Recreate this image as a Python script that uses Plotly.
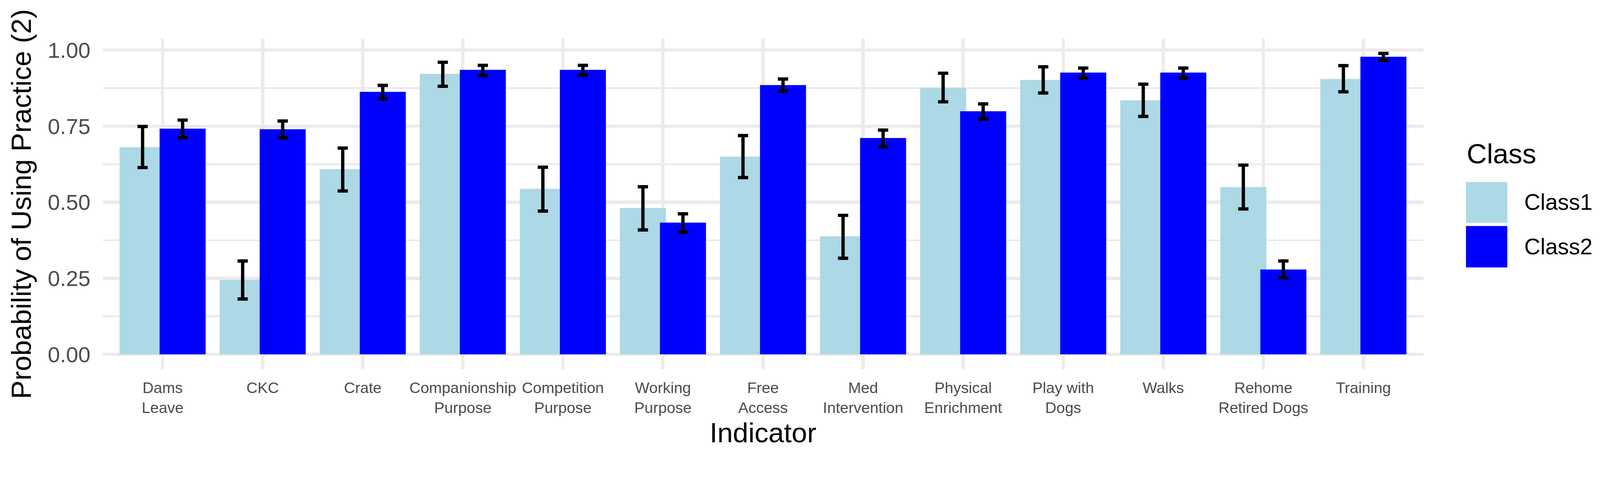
import plotly.graph_objects as go

# Indicadores (eixo x) e rótulos com quebra de linha
indicadores = ['Dams Leave', 'CKC', 'Crate', 'Companionship Purpose', 'Competition Purpose',
               'Working Purpose', 'Free Access', 'Med Intervention', 'Physical Enrichment',
               'Play with Dogs', 'Walks', 'Rehome Retired Dogs', 'Training']
rotulos = ['Dams<br>Leave', 'CKC', 'Crate', 'Companionship<br>Purpose', 'Competition<br>Purpose',
           'Working<br>Purpose', 'Free<br>Access', 'Med<br>Intervention', 'Physical<br>Enrichment',
           'Play with<br>Dogs', 'Walks', 'Rehome<br>Retired Dogs', 'Training']

# Probabilidades e intervalos - Class1
class1 = [0.681, 0.245, 0.609, 0.922, 0.544, 0.481, 0.650, 0.388, 0.876, 0.902, 0.835, 0.550, 0.905]
class1_low = [0.614, 0.182, 0.537, 0.881, 0.471, 0.409, 0.581, 0.316, 0.830, 0.859, 0.782, 0.478, 0.863]
class1_up = [0.749, 0.307, 0.678, 0.960, 0.615, 0.551, 0.719, 0.457, 0.924, 0.945, 0.888, 0.622, 0.949]

# Probabilidades e intervalos - Class2
class2 = [0.742, 0.740, 0.863, 0.935, 0.935, 0.433, 0.885, 0.711, 0.799, 0.926, 0.926, 0.279, 0.978]
class2_low = [0.712, 0.712, 0.839, 0.916, 0.918, 0.401, 0.865, 0.682, 0.773, 0.908, 0.908, 0.252, 0.966]
class2_up = [0.770, 0.767, 0.884, 0.950, 0.950, 0.462, 0.905, 0.737, 0.823, 0.941, 0.941, 0.307, 0.989]

classes = ['Class1', 'Class2']
cores = ['#ADD8E6', '#0000FF']

FONTE = 'Liberation Sans, Arial, sans-serif'
CINZA = '#4D4D4D'
GRADE = '#EBEBEB'
LARGURA, ALTURA = 4368, 1226

fig = go.Figure()

series = [(class1, class1_low, class1_up), (class2, class2_low, class2_up)]
offsets = [-0.43, -0.03]
for (vals, lo, up), nome, cor, off in zip(series, classes, cores, offsets):
    fig.add_trace(go.Bar(
        x=indicadores, y=vals, name=nome,
        marker=dict(color=cor, line=dict(width=0)),
        width=0.46, offset=off,
        error_y=dict(type='data', symmetric=False,
                     array=[u - v for u, v in zip(up, vals)],
                     arrayminus=[v - l for v, l in zip(vals, lo)],
                     color='black', thickness=9, width=14),
    ))

fig.update_layout(
    width=LARGURA, height=ALTURA,
    barmode='overlay',
    plot_bgcolor='white', paper_bgcolor='white',
    margin=dict(l=280, r=482, t=106, b=218, autoexpand=False),
    showlegend=False,
    font=dict(family=FONTE, color=CINZA),
)

fig.update_xaxes(
    type='category', range=[-0.6, 12.6], automargin=False,
    tickvals=indicadores, ticktext=rotulos,
    tickfont=dict(size=42, color=CINZA),
    showgrid=True, gridcolor=GRADE, gridwidth=9,
    zeroline=False, showline=False, ticks='', ticklabelstandoff=22,
    title=dict(text='Indicator', font=dict(size=76, color='black'), standoff=18),
)
fig.update_yaxes(
    range=[-0.049, 1.037], automargin=False,
    tickvals=[0, 0.25, 0.5, 0.75, 1.0],
    ticktext=['0.00', '0.25', '0.50', '0.75', '1.00'],
    tickfont=dict(size=60, color=CINZA),
    showgrid=True, gridcolor=GRADE, gridwidth=9,
    minor=dict(tickvals=[0.125, 0.375, 0.625, 0.875], showgrid=True, gridcolor=GRADE, gridwidth=4.5),
    zeroline=False, showline=False, ticks='', ticklabelstandoff=32,
    title=dict(text='Probability of Using Practice (2)', font=dict(size=76, color='black'), standoff=20),
)

# Legenda no estilo ggplot (chaves grandes)
fig.add_annotation(text='Class', xref='paper', yref='paper', x=1.0322, y=0.652,
                   xanchor='left', yanchor='middle', showarrow=False,
                   font=dict(size=76, color='black', family=FONTE))
chaves = [(0.4435, 0.5665), (0.3082, 0.4335)]
for (y0, y1), nome, cor in zip(chaves, classes, cores):
    fig.add_shape(type='rect', xref='paper', yref='paper', x0=1.0322, x1=1.0635,
                  y0=y0, y1=y1, fillcolor=cor, line=dict(width=0))
    fig.add_annotation(text=nome, xref='paper', yref='paper', x=1.0757, y=(y0 + y1) / 2,
                       xanchor='left', yanchor='middle', showarrow=False,
                       font=dict(size=61, color='black', family=FONTE))

# Ajusta a figura à janela do navegador (evita corte à direita)
ajuste = """
var gd = document.getElementById('{plot_id}');
document.documentElement.style.overflow = 'hidden';
document.body.style.margin = '0';
document.body.style.overflow = 'hidden';
var s = Math.min(window.innerWidth / %d, window.innerHeight / %d);
gd.style.transformOrigin = '0 0';
gd.style.transform = 'scale(' + s + ')';
""" % (LARGURA, ALTURA)

fig.write_html('out.html', post_script=ajuste, config={'displayModeBar': False})
